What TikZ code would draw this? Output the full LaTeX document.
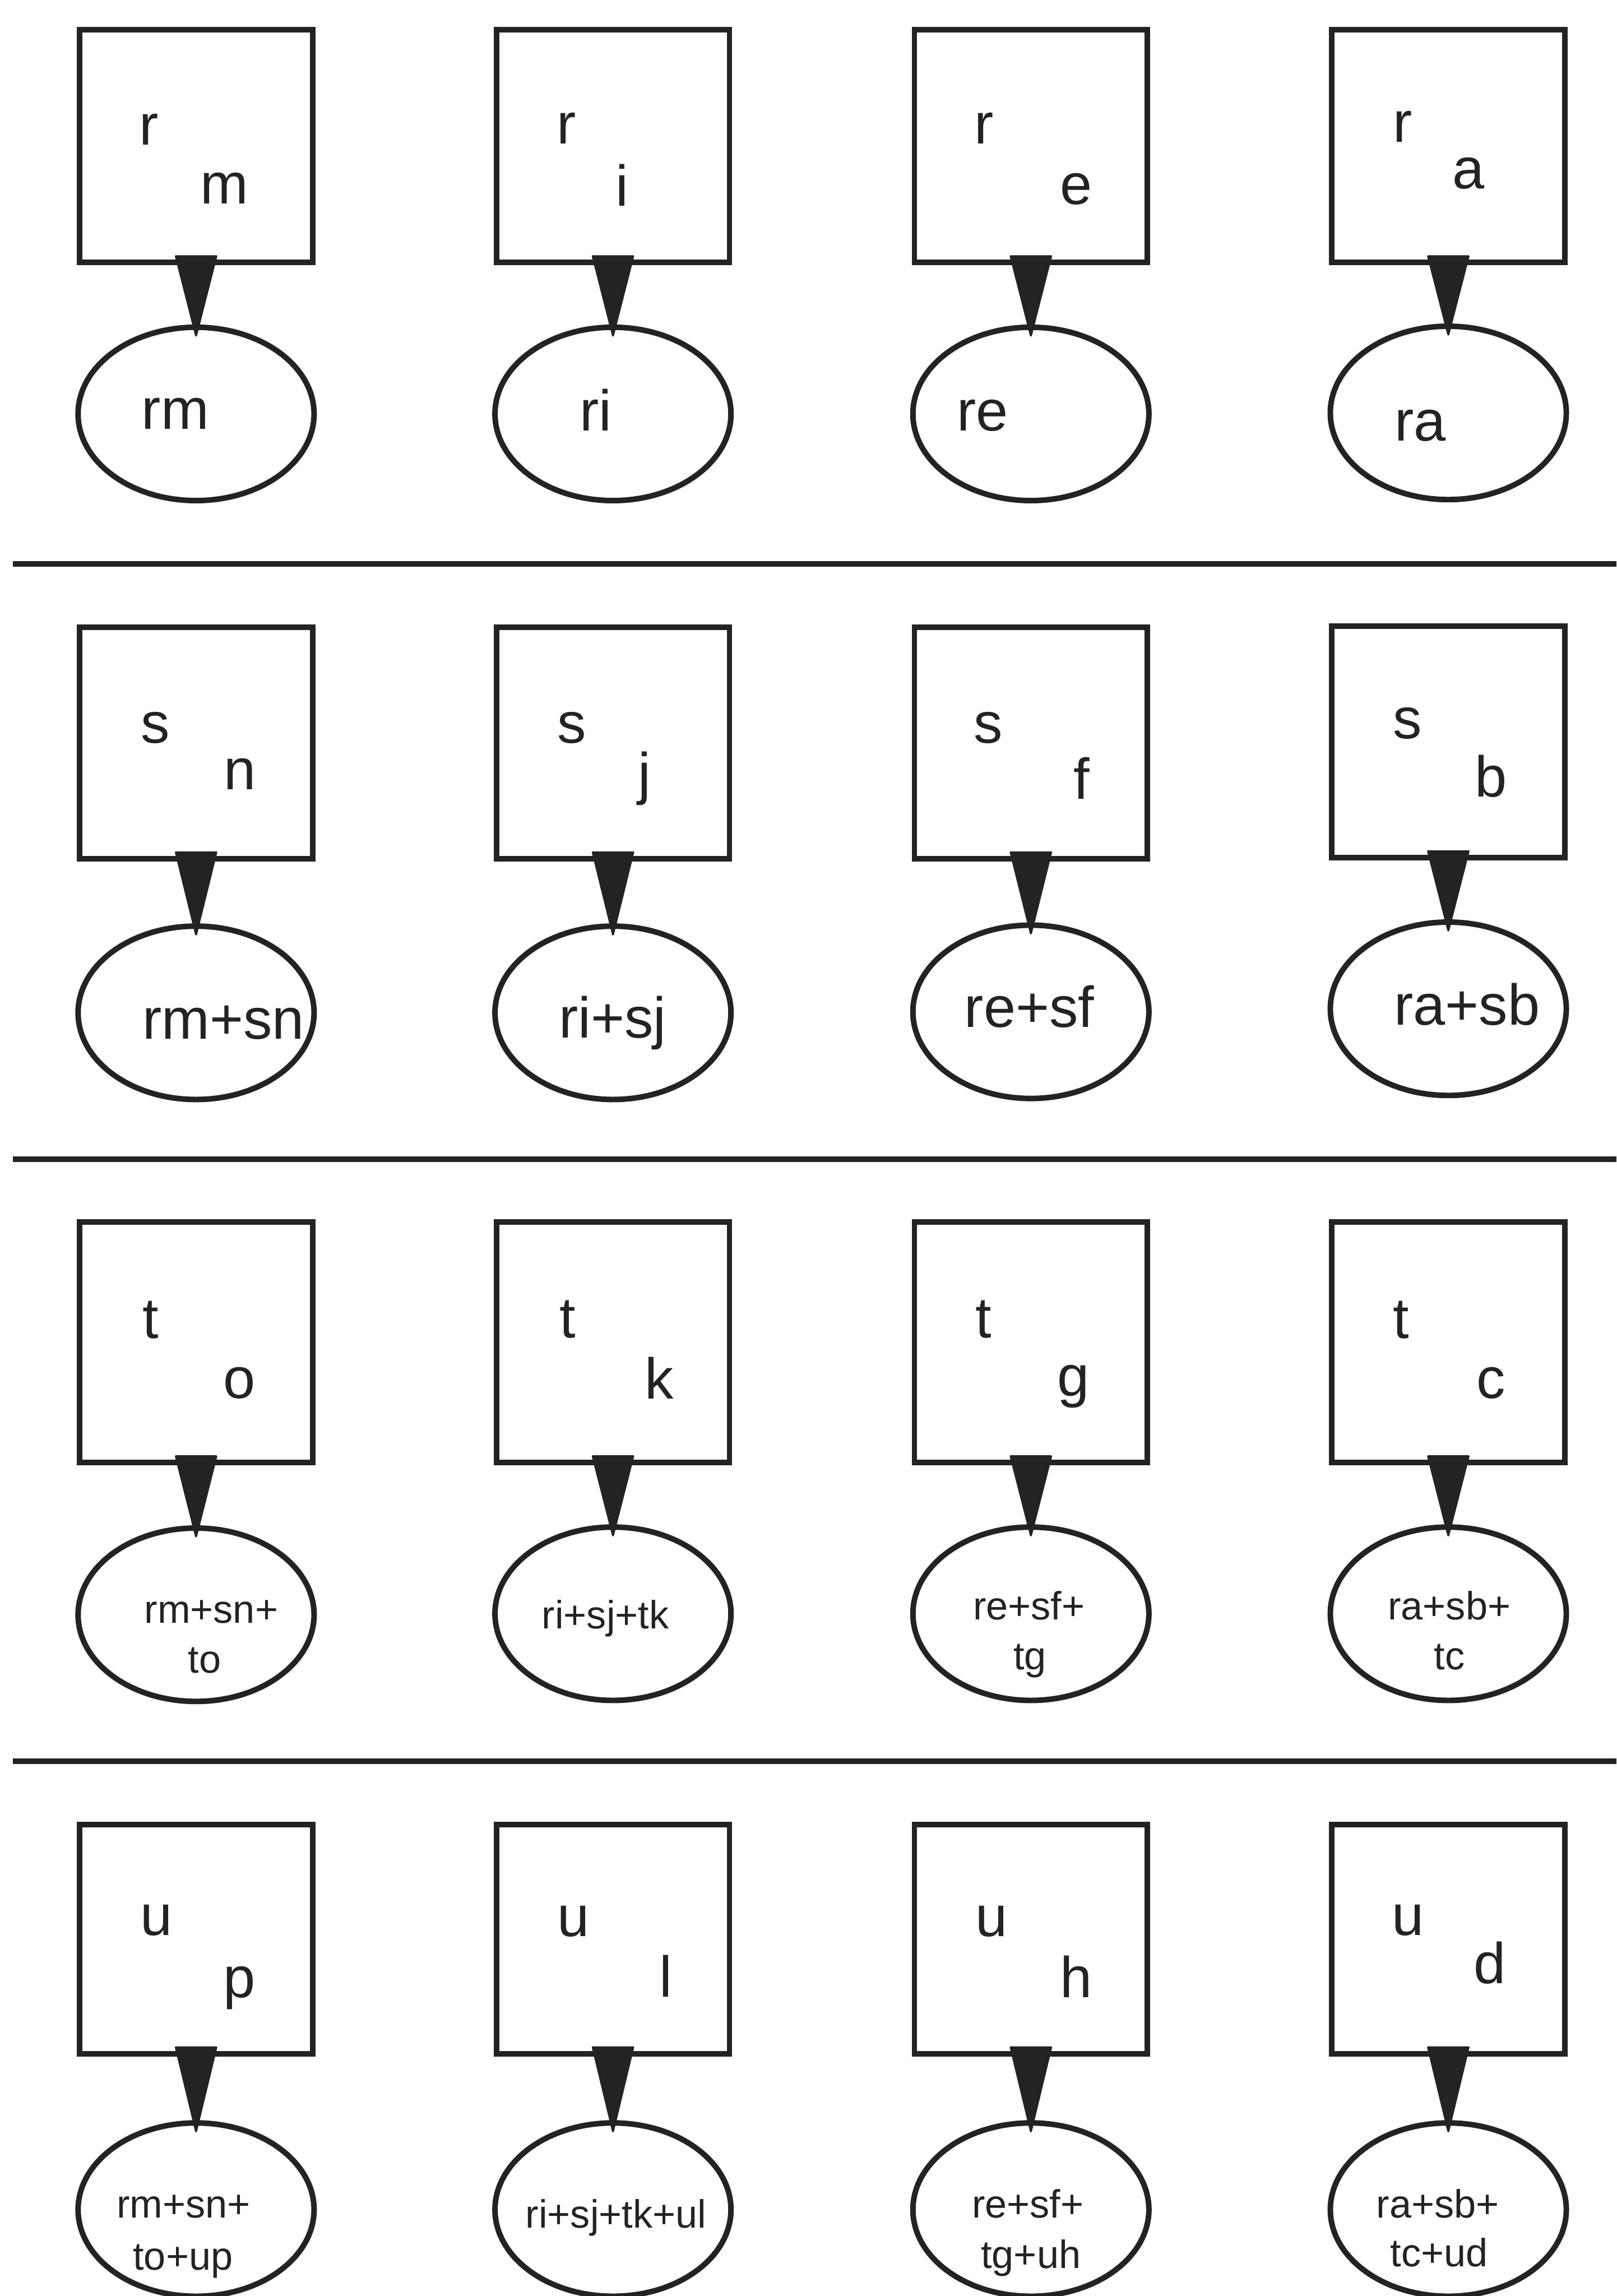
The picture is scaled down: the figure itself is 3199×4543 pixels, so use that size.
\documentclass[tikz,border=0pt]{standalone}
\usepackage{fontspec}
\setmainfont{Liberation Sans}
\usetikzlibrary{shapes.geometric}
\definecolor{ink}{RGB}{35,35,35}
\begin{document}
\begin{tikzpicture}[x=1pt,y=-1pt,
  box/.style={draw=ink, line width=11pt, minimum width=461pt, inner sep=0pt},
  ell/.style={ellipse, draw=ink, line width=11pt, minimum width=467pt, minimum height=343pt, inner sep=0pt},
  big/.style={text=ink, inner sep=0pt, font=\fontsize{114}{120}\selectfont},
  small/.style={text=ink, inner sep=0pt, anchor=base, font=\fontsize{78}{90}\selectfont},
  tri/.style={fill=ink, draw=ink, line width=4pt, line join=round,
    to path={([xshift=-40pt,yshift=18pt]\tikztostart) -- ([xshift=40pt,yshift=18pt]\tikztostart) -- ([yshift=-22pt]\tikztotarget) -- cycle}},
  sep/.style={draw=ink, line width=11pt}
]
\fill[white] (0,0) rectangle (3199,4543);
\useasboundingbox (0,0) rectangle (3199,4543);

% separators
\coordinate (s1a) at (25,1116);  \coordinate (s1b) at (3199,1116);
\coordinate (s2a) at (25,2294);  \coordinate (s2b) at (3199,2294);
\coordinate (s3a) at (25,3485);  \coordinate (s3b) at (3199,3485);
\draw[sep] (s1a) -- (s1b);
\draw[sep] (s2a) -- (s2b);
\draw[sep] (s3a) -- (s3b);

% ---------- row 1 ----------
\node[box, minimum height=461pt] (b11) at (388,289) {};
\node[box, minimum height=461pt] (b12) at (1213,289) {};
\node[box, minimum height=461pt] (b13) at (2040,289) {};
\node[box, minimum height=461pt] (b14) at (2866,289) {};
\node[ell] (e11) at (388,819) {};
\node[ell] (e12) at (1213,819) {};
\node[ell] (e13) at (2040,819) {};
\node[ell] (e14) at (2866,817) {};
\path[tri] (b11.south) to (e11.north);
\path[tri] (b12.south) to (e12.north);
\path[tri] (b13.south) to (e13.north);
\path[tri] (b14.south) to (e14.north);
\node[big] (p11) at (295,256) {r};   \node[big] (q11) at (444,372) {m};
\node[big] (p12) at (1121,254) {r};  \node[big] (q12) at (1231,366) {i};
\node[big] (p13) at (1947,254) {r};  \node[big] (q13) at (2130,374) {e};
\node[big] (p14) at (2776,250) {r};  \node[big] (q14) at (2906,343) {a};
\node[big, anchor=base] (l11) at (347,849) {rm};
\node[big, anchor=base] (l12) at (1179,852) {ri};
\node[big, anchor=base] (l13) at (1944,852) {re};
\node[big, anchor=base] (l14) at (2811,872) {ra};

% ---------- row 2 ----------
\node[box, minimum height=458pt] (b21) at (388,1470) {};
\node[box, minimum height=458pt] (b22) at (1213,1470) {};
\node[box, minimum height=458pt] (b23) at (2040,1470) {};
\node[box, minimum height=458pt] (b24) at (2866,1468) {};
\node[ell] (e21) at (388,2004) {};
\node[ell] (e22) at (1213,2004) {};
\node[ell] (e23) at (2040,2002) {};
\node[ell] (e24) at (2866,1996) {};
\path[tri] (b21.south) to (e21.north);
\path[tri] (b22.south) to (e22.north);
\path[tri] (b23.south) to (e23.north);
\path[tri] (b24.south) to (e24.north);
\node[big] (p21) at (307,1440) {s};   \node[big] (q21) at (475,1531) {n};
\node[big] (p22) at (1132,1440) {s};  \node[big] (q22) at (1275,1540) {j};
\node[big] (p23) at (1956,1440) {s};  \node[big] (q23) at (2140,1540) {f};
\node[big] (p24) at (2785,1431) {s};  \node[big] (q24) at (2950,1536) {b};
\node[big, anchor=base] (l21) at (442,2056) {rm+sn};
\node[big, anchor=base] (l22) at (1212,2054) {ri+sj};
\node[big, anchor=base] (l23) at (2037,2033) {re+sf};
\node[big, anchor=base] (l24) at (2903,2028) {ra+sb};

% ---------- row 3 ----------
\node[box, minimum height=476pt] (b31) at (388,2656) {};
\node[box, minimum height=476pt] (b32) at (1213,2656) {};
\node[box, minimum height=476pt] (b33) at (2040,2656) {};
\node[box, minimum height=476pt] (b34) at (2866,2656) {};
\node[ell] (e31) at (388,3195) {};
\node[ell] (e32) at (1213,3193) {};
\node[ell] (e33) at (2040,3193) {};
\node[ell] (e34) at (2866,3193) {};
\path[tri] (b31.south) to (e31.north);
\path[tri] (b32.south) to (e32.north);
\path[tri] (b33.south) to (e33.north);
\path[tri] (b34.south) to (e34.north);
\node[big] (p31) at (298,2612) {t};   \node[big] (q31) at (474,2737) {o};
\node[big] (p32) at (1123,2610) {t};  \node[big] (q32) at (1305,2726) {k};
\node[big] (p33) at (1946,2610) {t};  \node[big] (q33) at (2124,2744) {g};
\node[big] (p34) at (2773,2612) {t};  \node[big] (q34) at (2950,2737) {c};
\node[small] (l31a) at (418,3212) {rm+sn+};
\node[small] (l31b) at (405,3310) {to};
\node[small] (l32)  at (1198,3222) {ri+sj+tk};
\node[small] (l33a) at (2036,3205) {re+sf+};
\node[small] (l33b) at (2038,3303) {tg};
\node[small] (l34a) at (2868,3205) {ra+sb+};
\node[small] (l34b) at (2868,3303) {tc};

% ---------- row 4 ----------
\node[box, minimum height=453pt] (b41) at (388,3837) {};
\node[box, minimum height=453pt] (b42) at (1213,3837) {};
\node[box, minimum height=453pt] (b43) at (2040,3837) {};
\node[box, minimum height=453pt] (b44) at (2866,3837) {};
\node[ell] (e41) at (388,4372) {};
\node[ell] (e42) at (1213,4372) {};
\node[ell] (e43) at (2040,4372) {};
\node[ell] (e44) at (2866,4372) {};
\path[tri] (b41.south) to (e41.north);
\path[tri] (b42.south) to (e42.north);
\path[tri] (b43.south) to (e43.north);
\path[tri] (b44.south) to (e44.north);
\node[big] (p41) at (309,3800) {u};   \node[big] (q41) at (474,3934) {p};
\node[big] (p42) at (1135,3802) {u};  \node[big] (q42) at (1317,3910) {l};
\node[big] (p43) at (1962,3802) {u};  \node[big] (q43) at (2130,3911) {h};
\node[big] (p44) at (2786,3800) {u};  \node[big] (q44) at (2948,3884) {d};
\node[small] (l41a) at (363,4388) {rm+sn+};
\node[small] (l41b) at (362,4491) {to+up};
\node[small] (l42)  at (1219,4408) {ri+sj+tk+ul};
\node[small] (l43a) at (2034,4388) {re+sf+};
\node[small] (l43b) at (2040,4488) {tg+uh};
\node[small] (l44a) at (2845,4388) {ra+sb+};
\node[small] (l44b) at (2848,4485) {tc+ud};
\end{tikzpicture}
\end{document}
